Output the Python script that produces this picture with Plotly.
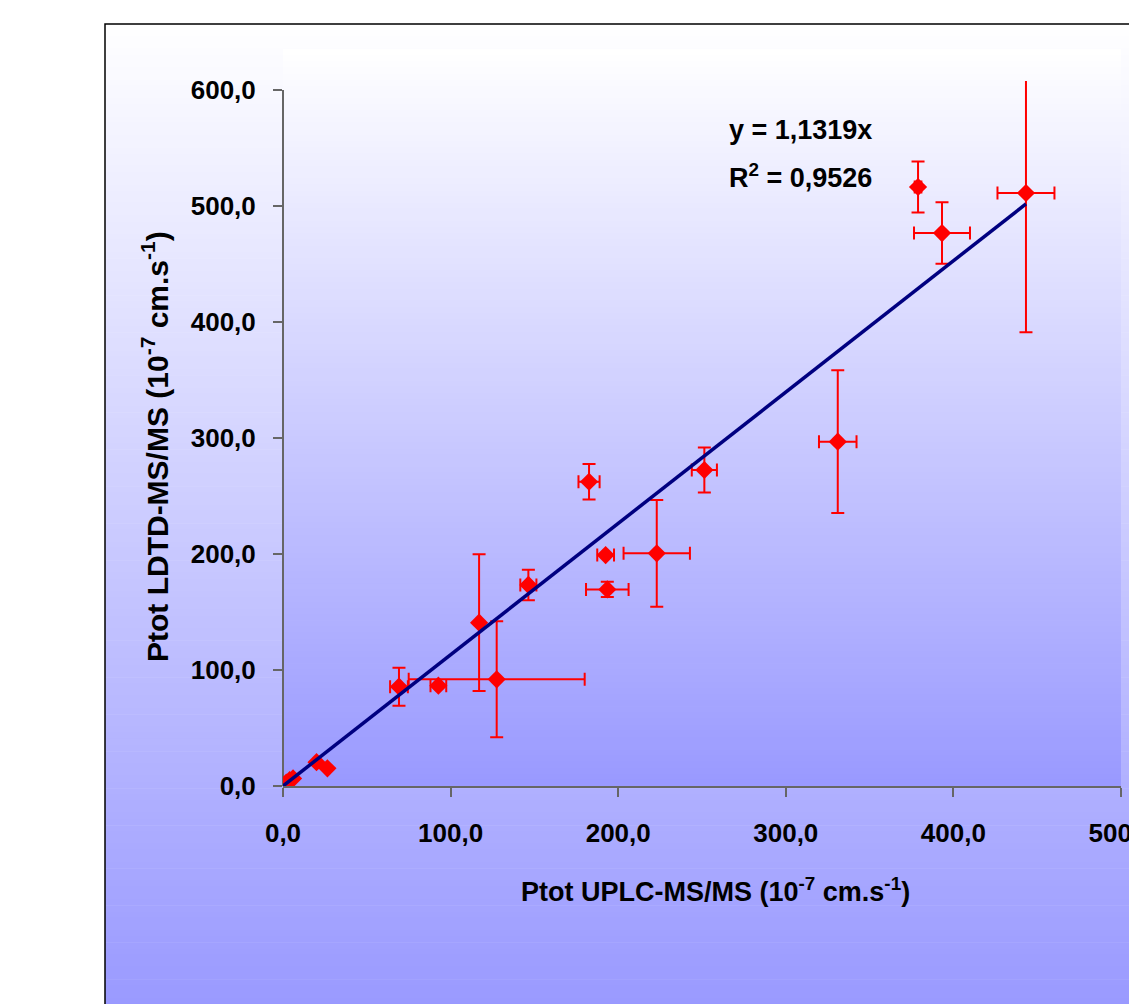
import plotly.graph_objects as go

# ---- data ----
x_uplc = [0.3, 2.0, 4.0, 6.0, 20.0, 26.5, 69.2, 92.7, 117.0, 127.5, 146.4, 182.6,
          192.5, 193.5, 223.0, 251.4, 331.0, 378.9, 393.2, 443.3]
y_ldtd = [0.3, 3.0, 5.0, 6.5, 20.5, 15.2, 85.6, 86.5, 140.8, 92.0, 173.3, 262.3,
          199.1, 169.5, 200.6, 272.4, 296.8, 516.4, 476.7, 511.2]
x_err = [0, 0, 0, 0, 0, 0, 5.3, 4.7, 0, 52.5, 4.8, 6.3,
         5.0, 12.7, 19.8, 7.5, 11.2, 2.0, 16.7, 17.0]
y_err = [0, 0, 0, 0, 0, 0, 16.4, 0, 59.0, 50.0, 13.2, 15.3,
         0, 6.5, 46.0, 19.4, 61.5, 22.0, 26.5, 120.0]
slope = 1.1319
r2 = 0.9526
x_ticks = [0, 100, 200, 300, 400, 500]
y_ticks = [0, 100, 200, 300, 400, 500, 600]

# ---- layout geometry (pixels) ----
W, H = 1129, 1004
L, R, T, B = 283, 1121, 81, 786          # plot area in pixels
Y_TOP = 600 + (90 - T) / ((B - 90) / 600.0)

def px(xp):
    return (xp - L) / (R - L)

def py(yp):
    return (B - yp) / (B - T)

def mix(c1, c2, f):
    return "rgb(%d,%d,%d)" % tuple(round(a + (b - a) * f) for a, b in zip(c1, c2))

WHITE = (255, 255, 255)
BLUE = (153, 153, 255)

shapes = []

def gradient(x0, x1, y0, y1, c0, c1, n):
    h = (y1 - y0) / n
    for i in range(n):
        ya = y0 + i * h
        yb = ya + h + 0.6
        f = (i + 0.5) / n
        shapes.append(dict(type="rect", xref="paper", yref="paper", layer="below",
                           x0=px(x0), x1=px(x1), y0=py(ya), y1=py(min(yb, y1)),
                           line=dict(width=0), fillcolor=mix(c0, c1, f)))

# chart area gradient
gradient(105, 1140, 24, 1010, WHITE, BLUE, 160)
# plot area gradient
gradient(L, R, 49, B, WHITE, BLUE, 120)
# chart area border
shapes.append(dict(type="rect", xref="paper", yref="paper", layer="below",
                   x0=px(105), x1=px(1145), y0=py(24), y1=py(1015),
                   line=dict(color="black", width=1.5), fillcolor="rgba(0,0,0,0)"))
# y axis line from 0 to 600
shapes.append(dict(type="line", xref="paper", yref="y", layer="below",
                   x0=0, x1=0, y0=0, y1=600,
                   line=dict(color="#666666", width=2)))

fig = go.Figure()

fig.add_trace(go.Scatter(
    x=x_uplc, y=y_ldtd, mode="markers",
    marker=dict(symbol="diamond", size=14, color="#ff0000", line=dict(width=0)),
    error_x=dict(type="data", array=x_err, color="#ff0000", thickness=2, width=6.5),
    error_y=dict(type="data", array=y_err, color="#ff0000", thickness=2, width=6.5),
    showlegend=False, hoverinfo="x+y"))

x_fit = [0, max(x_uplc)]
y_fit = [slope * v for v in x_fit]
fig.add_trace(go.Scatter(x=x_fit, y=y_fit, mode="lines",
                         line=dict(color="#000080", width=3.5), showlegend=False))

FAM = "Liberation Sans, Arial, sans-serif"
font_eq = dict(family=FAM, size=27, color="black")

annotations = [
    dict(text="<b>y = 1,1319x</b>", xref="paper", yref="paper",
         x=px(727), y=py(130), xanchor="left", yanchor="middle",
         showarrow=False, font=font_eq),
    dict(text="<b>R<sup>2</sup> = 0,9526</b>", xref="paper", yref="paper",
         x=px(727), y=py(176), xanchor="left", yanchor="middle",
         showarrow=False, font=font_eq),
    dict(text="<b>Ptot UPLC-MS/MS (10<sup>-7</sup> cm.s<sup>-1</sup>)</b>",
         xref="paper", yref="paper", x=px(715), y=py(890),
         xanchor="center", yanchor="middle", showarrow=False,
         font=dict(family=FAM, size=27, color="black")),
    dict(text="<b>Ptot LDTD-MS/MS (10<sup>-7</sup> cm.s<sup>-1</sup>)</b>",
         xref="paper", yref="paper", x=px(155), y=py(447), textangle=-90,
         xanchor="center", yanchor="middle", showarrow=False,
         font=dict(family=FAM, size=30, color="black")),
]

axis_common = dict(showgrid=False, zeroline=False, ticks="outside", ticklen=9,
                   tickwidth=2, tickcolor="#666666", tickformat=".1f",
                   automargin=False,
                   tickfont=dict(family=FAM, size=26, color="black", weight="bold"))

fig.update_layout(
    width=W, height=H,
    margin=dict(l=L, r=W - R, t=T, b=H - B, pad=0, autoexpand=False),
    paper_bgcolor="white", plot_bgcolor="rgba(0,0,0,0)",
    separators=",.",
    xaxis=dict(range=[0, 500], tickvals=x_ticks, showline=True, linecolor="#666666",
               linewidth=2, ticklabeloverflow="allow", ticklabelstandoff=14,
               **axis_common),
    yaxis=dict(range=[0, Y_TOP], tickvals=y_ticks, showline=False,
               ticklabelstandoff=12, **axis_common),
    shapes=shapes, annotations=annotations, showlegend=False,
)

fig.write_html("out.html")
